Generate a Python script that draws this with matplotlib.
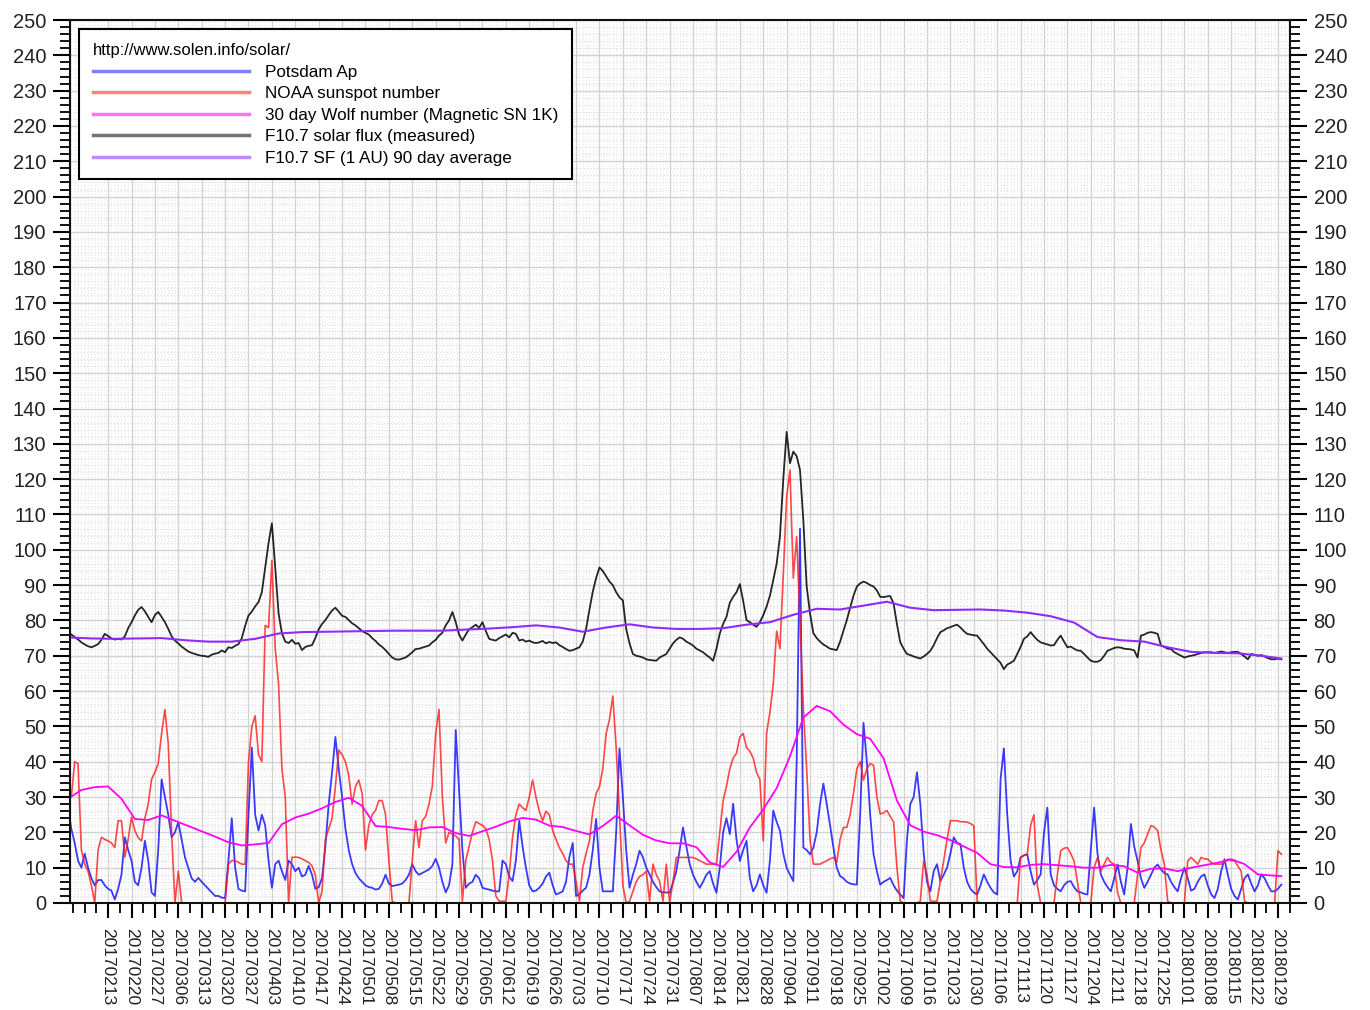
import numpy as np
import pandas as pd
import matplotlib
matplotlib.use("Agg")
import matplotlib.pyplot as plt
import matplotlib.dates as mdates
from matplotlib.ticker import MultipleLocator, FixedLocator

plt.rcParams['font.family'] = ['Liberation Sans', 'DejaVu Sans']

# daily series, 2017-02-01 .. 2018-01-30
days = pd.date_range("2017-02-01", periods=364, freq="D")

# Potsdam Ap
ap = [
    27, 21, 17, 12, 10, 14, 10,
    7, 5, 6.5, 6.5, 5, 4, 3.5,
    1, 4, 8, 18.6, 15, 12, 6,
    5, 10, 17.6, 12, 3, 2, 15,
    35, 30, 25, 18.6, 20, 22.9, 18,
    12.9, 10, 7, 6, 7.1, 6, 5,
    4, 3, 2, 2, 1.5, 1.4, 12,
    24, 10, 4, 3.5, 3.3, 25, 44,
    25, 20.5, 25, 22, 12, 4.3, 11,
    12, 9, 6.5, 12, 11, 9, 10,
    7.5, 8, 10.5, 8, 4, 4.5, 7,
    16, 28, 37, 47, 38, 30, 21,
    15, 11, 8.5, 7, 6, 5, 4.5,
    4.3, 3.8, 4, 5.5, 8, 5.5, 4.8,
    5, 5.2, 5.5, 6.5, 8, 11, 9,
    8, 8.5, 9, 9.5, 10.5, 12.5, 10,
    6, 3, 5, 11, 49, 32, 15,
    4.3, 5.5, 6, 8, 7, 4.3, 4,
    3.8, 3.5, 3.3, 3.3, 12, 11, 7.5,
    6.2, 12, 23.3, 16, 10, 5, 3.3,
    3.5, 4.3, 5.5, 7.5, 8.6, 5, 2.4,
    2.8, 3.3, 6, 13, 17, 2, 2.5,
    3.5, 4.3, 8, 15, 23.8, 10, 3.3,
    3.3, 3.3, 3.3, 20, 43.8, 30, 15,
    4.3, 8, 11, 14.8, 13, 10, 8.1,
    6, 4.5, 3.3, 3, 3, 2.9, 5.7,
    9, 15, 21.4, 16, 11, 8, 6,
    4.3, 6, 8, 9, 5.5, 2.9, 10,
    20, 24, 19.5, 28.1, 18, 11.9, 15,
    17.6, 7, 3.3, 5, 8.1, 5, 2.9,
    12, 26.2, 23, 20.5, 14, 10, 8,
    6.2, 40, 106, 15.7, 15, 13.8, 15.7,
    20, 28, 33.8, 28, 22, 15.7, 10,
    7.6, 7, 6, 5.5, 5.3, 5.2, 25,
    51, 40, 25, 13.8, 9, 5.2, 6,
    6.5, 7.1, 5, 3.5, 2.4, 1.4, 18,
    28, 30, 37, 28, 14, 6, 3.3,
    9, 11, 6.2, 8, 10, 14, 18.6,
    17, 16.7, 10, 6, 4, 3, 2.4,
    5, 8.1, 6, 4.3, 3, 2.4, 35,
    43.8, 25, 12, 7.5, 9, 12.9, 13.5,
    13.8, 9, 5.2, 6.5, 8.1, 20, 27,
    8.1, 5, 4, 3.3, 5, 6, 6.2,
    4.5, 3.3, 3, 2.6, 2.4, 15, 27,
    14, 8.1, 6, 4.5, 3.3, 7, 10.9,
    6, 2.4, 10, 22.4, 16, 11.9, 7,
    4.3, 6, 8, 10, 10.9, 9.5, 8.5,
    8.1, 6, 4.5, 3.3, 7, 10, 7,
    3.5, 4, 6, 7.5, 8.1, 5, 2.5,
    1.4, 4, 9, 12.4, 8, 4, 2,
    1, 4, 7, 8.1, 5.5, 3.3, 5,
    8.1, 7, 5, 3.3, 3.3, 4, 5.2,
]

# NOAA sunspot number
ssn = [
    34.8, 30, 40, 39.5, 15, 11, 9,
    5, 0, 15, 18.6, 18, 17.6, 17,
    15.7, 23.3, 23.3, 13, 18, 24.3, 20.5,
    18.5, 17.6, 24, 28, 35, 37, 39.5,
    48, 54.8, 45, 20, 0, 9, 0,
    0, 0, 0, 0, 0, 0, 0,
    0, 0, 0, 0, 0, 0, 11,
    12, 12, 11.5, 11, 11, 40, 50,
    53, 42, 40, 78.6, 78, 97, 72,
    62, 38, 30, 0, 12.9, 13, 12.9,
    12.5, 12, 11.5, 10.5, 8, 0, 3.3,
    18, 21, 24, 33, 43.3, 42, 40,
    36, 28, 33, 34.8, 31, 15, 22,
    25, 26.2, 29, 29, 25, 12, 0.5,
    0, 0, 0, 0, 0, 12, 23.3,
    15.7, 23.3, 24.5, 28, 33, 48, 54.8,
    30, 17, 20, 19.5, 19, 18, 0.5,
    12, 16, 20, 23, 22.5, 22, 21,
    18, 12, 2, 0.5, 0.5, 0.5, 8,
    18.6, 25, 28, 27, 26.2, 30, 34.8,
    30, 26, 23.3, 26, 25, 20.5, 18,
    15.7, 14, 12, 11, 11, 6, 0.5,
    10, 14, 17.6, 26, 31, 32.9, 38,
    48, 52, 58.6, 44, 25, 5, 0,
    0.5, 3.3, 6, 7.5, 8, 9, 0.5,
    11, 8, 6.2, 0.5, 11, 0, 6,
    12.9, 12.9, 12.9, 12.9, 12.9, 12.9, 12.5,
    12, 11.5, 11, 11, 11, 11, 20,
    29, 33, 38, 41, 42.4, 47, 48,
    44, 43, 41, 37, 35, 17.6, 48,
    54, 62, 77, 72, 93, 115, 122.6,
    92, 103.7, 80, 55, 38, 18, 11,
    11, 11, 11.5, 12, 12.5, 12.9, 11.5,
    18, 21.4, 21.4, 25, 31, 38, 40,
    34.8, 38, 39.5, 39, 30, 25.2, 25.5,
    26.2, 24.5, 23, 10, 0.5, 0, 0,
    0, 0, 0, 0.5, 11.9, 8, 0.5,
    0.5, 0.5, 6.2, 12, 18, 23.3, 23.3,
    23.3, 23, 23, 22.9, 22.5, 21.9, 0.5,
    0, 0, 0, 0, 0, 0, 0,
    0, 0, 0, 0, 0, 12.9, 13.5,
    13.8, 22, 25, 5, 0, 0, 0,
    0, 0, 8, 14.8, 15.5, 15.7, 14,
    11.9, 6, 0, 0, 0, 0, 10,
    12.9, 9, 11, 12.9, 11.5, 11, 3,
    0, 0, 0, 0, 0, 8, 15.7,
    17, 19.5, 21.9, 21.5, 20.5, 15, 11,
    0.5, 0, 0, 0, 0, 0, 11.9,
    12.9, 12, 11, 12.9, 12.5, 12.4, 11.5,
    11, 11, 11, 11.5, 12.4, 12, 11.9,
    10.5, 9, 0.5, 0, 0, 0, 0,
    0, 0, 0, 0, 0, 14.8, 13.8,
]

# F10.7 solar flux (measured)
f107 = [
    76.7, 76.0, 75.3, 74.6, 73.8, 73.2, 72.7,
    72.4, 72.8, 73.3, 74.5, 76.2, 75.6, 74.9,
    74.6, 74.8, 74.6, 75.5, 77.8, 79.5, 81.4,
    83.0, 83.8, 82.6, 81.0, 79.5, 81.5, 82.4,
    81.0, 79.5, 77.6, 75.5, 74.3, 73.5, 72.6,
    71.9, 71.2, 70.8, 70.5, 70.2, 70.0, 69.9,
    69.7, 70.3, 70.6, 70.8, 71.5, 71.0, 72.4,
    72.2, 72.8, 73.3, 75.0, 78.5, 81.4, 82.5,
    84.0, 85.2, 88.0, 95.0, 101.9, 107.5, 95.0,
    82.0, 76.4, 74.0, 73.6, 74.5, 73.4, 73.6,
    71.6, 72.5, 72.8, 73.0, 75.0, 77.5, 79.0,
    80.1, 81.5, 82.8, 83.6, 82.5, 81.3, 81.0,
    80.1, 79.2, 78.6, 77.8, 77.0, 76.5, 76.0,
    75.0, 74.2, 73.2, 72.5, 71.6, 70.5, 69.5,
    69.0, 68.9, 69.2, 69.5, 70.2, 71.0, 71.9,
    72.0, 72.3, 72.6, 72.9, 73.8, 74.5, 75.7,
    76.5, 78.6, 80.0, 82.4, 79.5, 76.0, 74.3,
    76.0, 77.5, 78.1, 78.8, 77.9, 79.5, 77.0,
    74.8, 74.5, 74.3, 75.0, 75.5, 76.0, 75.2,
    76.5, 76.2, 74.3, 74.6, 74.0, 74.3, 73.8,
    73.6, 73.8, 74.2, 73.5, 73.9, 73.6, 73.8,
    73.0, 72.5, 71.9, 71.4, 71.6, 72.0, 72.4,
    74.0, 77.6, 83.0, 88.1, 92.0, 95.0, 94.0,
    92.5, 91.0, 90.0, 88.0, 86.5, 85.7, 77.6,
    73.5, 70.5, 70.0, 69.8, 69.5, 69.0, 68.8,
    68.7, 68.6, 69.5, 70.0, 70.5, 72.0, 73.5,
    74.5, 75.2, 74.8, 74.0, 73.5, 72.9, 72.0,
    71.5, 71.0, 70.2, 69.5, 68.6, 72.0, 76.3,
    79.0, 81.0, 85.0, 86.7, 88.0, 90.3, 85.5,
    80.1, 79.5, 78.8, 78.2, 79.5, 81.5, 83.9,
    87.0, 91.4, 96.0, 103.7, 120.0, 133.4, 124.5,
    127.8, 126.5, 122.6, 108.4, 89.6, 82.0, 76.4,
    75.0, 74.0, 73.2, 72.6, 72.0, 71.8, 71.6,
    74.0, 77.0, 80.1, 83.5, 87.0, 89.6, 90.5,
    91.0, 90.6, 90.0, 89.6, 88.5, 86.7, 86.6,
    86.8, 86.9, 84.8, 79.0, 73.8, 72.0, 70.5,
    70.2, 69.8, 69.5, 69.2, 69.8, 70.5, 71.4,
    73.0, 75.0, 76.7, 77.2, 77.8, 78.1, 78.5,
    78.8, 78.0, 77.0, 76.2, 76.0, 75.8, 75.7,
    74.5, 73.3, 72.0, 71.0, 70.0, 69.0, 68.0,
    66.2, 67.5, 68.0, 68.6, 70.5, 72.5, 74.8,
    75.5, 76.7, 75.5, 74.5, 73.8, 73.5, 73.2,
    72.9, 73.0, 74.5, 75.7, 74.0, 72.4, 72.6,
    72.0, 71.5, 71.4, 70.5, 69.5, 68.6, 68.3,
    68.3, 68.8, 70.0, 71.4, 71.8, 72.2, 72.4,
    72.3, 72.0, 71.9, 71.8, 71.5, 69.5, 75.7,
    76.0, 76.5, 76.7, 76.5, 76.2, 72.9, 72.5,
    72.0, 71.9, 71.0, 70.5, 70.0, 69.5, 69.8,
    70.0, 70.2, 70.5, 70.8, 71.0, 71.0, 71.0,
    70.8, 71.0, 71.2, 71.0, 70.8, 71.0, 71.1,
    71.1, 70.5, 69.8, 69.0, 70.5, 70.3, 70.0,
    70.2, 69.8, 69.3, 69.0, 69.0, 69.2, 69.0,
]

# 30 day Wolf number, read every 4 days
wolf_dates = pd.to_datetime([
    "2017-02-01", "2017-02-05", "2017-02-09", "2017-02-13", "2017-02-17", "2017-02-21",
    "2017-02-25", "2017-03-01", "2017-03-05", "2017-03-09", "2017-03-13", "2017-03-17",
    "2017-03-21", "2017-03-25", "2017-03-29", "2017-04-02", "2017-04-06", "2017-04-10",
    "2017-04-14", "2017-04-18", "2017-04-22", "2017-04-26", "2017-04-30", "2017-05-04",
    "2017-05-08", "2017-05-12", "2017-05-16", "2017-05-20", "2017-05-24", "2017-05-28",
    "2017-06-01", "2017-06-05", "2017-06-09", "2017-06-13", "2017-06-17", "2017-06-21",
    "2017-06-25", "2017-06-29", "2017-07-03", "2017-07-07", "2017-07-11", "2017-07-15",
    "2017-07-19", "2017-07-23", "2017-07-27", "2017-07-31", "2017-08-04", "2017-08-08",
    "2017-08-12", "2017-08-16", "2017-08-20", "2017-08-24", "2017-08-28", "2017-09-01",
    "2017-09-05", "2017-09-09", "2017-09-13", "2017-09-17", "2017-09-21", "2017-09-25",
    "2017-09-29", "2017-10-03", "2017-10-07", "2017-10-11", "2017-10-15", "2017-10-19",
    "2017-10-23", "2017-10-27", "2017-10-31", "2017-11-04", "2017-11-08", "2017-11-12",
    "2017-11-16", "2017-11-20", "2017-11-24", "2017-11-28", "2017-12-02", "2017-12-06",
    "2017-12-10", "2017-12-14", "2017-12-18", "2017-12-22", "2017-12-26", "2017-12-30",
    "2018-01-03", "2018-01-07", "2018-01-11", "2018-01-15", "2018-01-19", "2018-01-23",
    "2018-01-27", "2018-01-30",
])
wolf = [
    29.5, 32.0, 32.8, 33.0, 29.5, 23.8, 23.5, 24.8, 23.3, 21.8, 20.3, 18.8,
    17.2, 16.3, 16.6, 17.0, 22.3, 24.2, 25.3, 26.8, 28.6, 29.8, 27.5, 21.8,
    21.5, 21.0, 20.6, 21.4, 21.5, 19.8, 19.0, 20.3, 21.6, 23.1, 24.1, 23.6,
    21.9, 21.5, 20.4, 19.4, 21.8, 24.7, 22.0, 19.3, 17.7, 16.9, 16.9, 15.8,
    11.5, 10.2, 14.5, 21.4, 26.5, 32.5, 41.5, 52.5, 55.8, 54.3, 50.5, 47.8,
    46.5, 41.0, 29.0, 22.0, 20.2, 19.2, 17.8, 16.0, 14.2, 11.0, 10.2, 10.1,
    10.8, 11.0, 10.7, 10.4, 10.0, 10.0, 10.8, 10.4, 8.6, 9.7, 9.8, 9.0,
    10.0, 10.7, 11.4, 12.4, 11.0, 8.1, 7.8, 7.6,
]

# F10.7 SF (1 AU) 90 day average, read weekly
avg_dates = pd.to_datetime([
    "2017-02-01", "2017-02-08", "2017-02-15", "2017-02-22", "2017-03-01", "2017-03-08",
    "2017-03-15", "2017-03-22", "2017-03-29", "2017-04-05", "2017-04-12", "2017-04-19",
    "2017-04-26", "2017-05-03", "2017-05-10", "2017-05-17", "2017-05-24", "2017-05-31",
    "2017-06-07", "2017-06-14", "2017-06-21", "2017-06-28", "2017-07-05", "2017-07-12",
    "2017-07-19", "2017-07-26", "2017-08-02", "2017-08-09", "2017-08-16", "2017-08-23",
    "2017-08-30", "2017-09-06", "2017-09-13", "2017-09-20", "2017-09-27", "2017-10-04",
    "2017-10-11", "2017-10-18", "2017-10-25", "2017-11-01", "2017-11-08", "2017-11-15",
    "2017-11-22", "2017-11-29", "2017-12-06", "2017-12-13", "2017-12-20", "2017-12-27",
    "2018-01-03", "2018-01-10", "2018-01-17", "2018-01-24", "2018-01-30",
])
avg90 = [
    75.2, 74.9, 74.8, 74.9, 75.0, 74.4, 74.0, 74.0, 74.8, 76.3, 76.7, 76.8,
    76.9, 77.0, 77.1, 77.1, 77.1, 77.4, 77.7, 78.1, 78.6, 78.0, 76.8, 78.0,
    78.9, 78.0, 77.6, 77.6, 77.8, 78.8, 79.5, 81.6, 83.3, 83.1, 84.2, 85.3,
    83.6, 82.9, 83.0, 83.1, 82.8, 82.2, 81.2, 79.4, 75.3, 74.4, 74.0, 72.4,
    71.1, 70.8, 70.7, 70.0, 69.2,
]

# weekly tick labels
week_ticks = pd.date_range("2017-02-13", "2018-01-29", freq="7D")

fig = plt.figure(figsize=(13.7, 10.1), dpi=100)
ax = fig.add_axes([70 / 1370, 107 / 1010, 1220 / 1370, 883 / 1010])

ax.plot(days, ap, color="#1818ff", lw=1.3, alpha=0.85, label="Potsdam Ap")
ax.plot(days, ssn, color="#ff1a1a", lw=1.2, alpha=0.8, label="NOAA sunspot number")
ax.plot(wolf_dates, wolf, color="#ff00ff", lw=1.3, label="30 day Wolf number (Magnetic SN 1K)")
ax.plot(days, f107, color="#000000", lw=1.3, alpha=0.85, label="F10.7 solar flux (measured)")
ax.plot(avg_dates, avg90, color="#8f2bff", lw=1.5, label="F10.7 SF (1 AU) 90 day average")

x0 = mdates.date2num(days[0])
ax.set_xlim(x0 + 0.6, x0 + 365.6)
ax.set_ylim(0, 250)

ax.xaxis.set_major_locator(FixedLocator(mdates.date2num(week_ticks)))
ax.xaxis.set_major_formatter(mdates.DateFormatter("%Y%m%d"))
ax.xaxis.set_minor_locator(MultipleLocator(3.5, offset=0.5))
ax.yaxis.set_major_locator(MultipleLocator(10))
ax.yaxis.set_minor_locator(MultipleLocator(2))

# grid
ax.grid(which="major", color="#d2d2d2", lw=1.0, ls="-")
ax.grid(which="minor", axis="y", color="#dcdcdc", lw=0.8, ls=(0, (1, 2)))
ax.vlines(np.arange(x0 + 1, x0 + 366, 1.0), 0, 250, colors="#e0e0e0", lw=0.7,
          linestyles=(0, (1, 2)), zorder=0)
ax.set_axisbelow(True)

for s in ax.spines.values():
    s.set_linewidth(1.5)
    s.set_color("#111111")

ax.tick_params(axis="y", which="major", direction="out", length=12, width=1.5,
               left=True, right=True, labelleft=True, labelright=True,
               labelsize=14.5, pad=5, labelcolor="#222222")
ax.tick_params(axis="y", which="minor", direction="out", length=7, width=1.3,
               left=True, right=True)
ax.tick_params(axis="x", which="major", direction="out", length=11, width=1.5,
               labelsize=12.5, pad=7, labelcolor="#222222")
ax.tick_params(axis="x", which="minor", direction="out", length=7, width=1.3)
plt.setp(ax.get_xticklabels(), rotation=270, ha="center", va="top")

leg = ax.legend(loc="upper left", title="http://www.solen.info/solar/", alignment="left",
                fontsize=12.3, title_fontsize=12, handlelength=9.1, handletextpad=0.95,
                borderpad=0.8, labelspacing=0.38, borderaxespad=0.55,
                frameon=True, fancybox=False, framealpha=1, edgecolor="black")
leg.get_frame().set_linewidth(1.5)
for line in leg.get_lines():
    line.set_linewidth(2.5)
    line.set_alpha(0.55)

fig.savefig("out.png", dpi=100)
